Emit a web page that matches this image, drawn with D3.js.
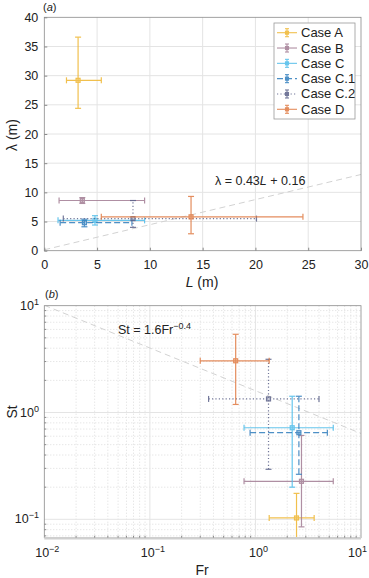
<!DOCTYPE html>
<html>
<head>
<meta charset="utf-8">
<script src="https://cdn.jsdelivr.net/npm/d3@7"></script>
<style>
  body { margin: 0; background: #fff; }
  svg { display: block; font-family: "Liberation Sans", Arial, sans-serif; }
</style>
</head>
<body>
<svg id="chart" width="369" height="578"></svg>
<script>
// ---- data ----
const cases = ["Case A", "Case B", "Case C", "Case C.1", "Case C.2", "Case D"];
const caseColors = ["#efb630", "#a27c93", "#4dbcea", "#2f7dbd", "#5b6189", "#e07a42"];
const caseDash = [null, null, null, "6,3", "1.2,2.2", null];

// panel (a): L, lambda with error ranges
const L = [3.2, 3.6, 4.8, 3.8, 8.4, 13.9];
const Llo = [2.1, 1.4, 1.3, 1.5, 1.8, 5.4];
const Lhi = [5.4, 9.5, 9.5, 8.3, 20.1, 24.5];
const lam = [29.2, 8.6, 5.2, 4.8, 5.5, 5.8];
const lamLo = [24.4, 8.1, 4.4, 4.1, 4.0, 2.9];
const lamHi = [36.6, 9.1, 6.0, 5.4, 8.6, 9.3];

// panel (b): Fr, St with error ranges
const Fr = [2.45, 2.73, 2.23, 2.58, 1.33, 0.65];
const FrLo = [1.35, 0.78, 0.78, 0.89, 0.36, 0.30];
const FrHi = [3.6, 5.46, 5.46, 4.8, 4.0, 1.35];
const St = [0.103, 0.227, 0.72, 0.647, 1.34, 3.05];
const StLo = [0.04, 0.085, 0.20, 0.264, 0.294, 1.19];
const StHi = [0.175, 0.61, 1.42, 1.42, 3.15, 5.4];

const xTicksA = [0, 5, 10, 15, 20, 25, 30];
const yTicksA = [0, 5, 10, 15, 20, 25, 30, 35, 40];
const xDecB = [-2, -1, 0, 1];
const yDecB = [-1, 0, 1];

const svg = d3.select("#chart");
const gridCol = "#e4e4e4";
const axisCol = "#8a8a8a";

function errorbars(g, x, y, xs, xl, xh, ys, yl, yh, i) {
  const col = caseColors[i], dash = caseDash[i];
  const e = g.append("g").attr("stroke", col).attr("stroke-width", 1.2)
    .attr("fill", "none").attr("opacity", 0.85);
  const cx = x(xs[i]), cy = y(ys[i]);
  e.append("line").attr("x1", x(xl[i])).attr("x2", x(xh[i])).attr("y1", cy).attr("y2", cy)
    .attr("stroke-dasharray", dash);
  e.append("line").attr("x1", cx).attr("x2", cx).attr("y1", y(yl[i])).attr("y2", y(yh[i]))
    .attr("stroke-dasharray", dash);
  [x(xl[i]), x(xh[i])].forEach(px => e.append("line").attr("x1", px).attr("x2", px)
    .attr("y1", cy - 3).attr("y2", cy + 3));
  [y(yl[i]), y(yh[i])].forEach(py => e.append("line").attr("y1", py).attr("y2", py)
    .attr("x1", cx - 3).attr("x2", cx + 3));
  e.append("rect").attr("x", cx - 2).attr("y", cy - 2).attr("width", 4).attr("height", 4)
    .attr("fill", col).attr("fill-opacity", 0.4);
}

// ================= panel (a) =================
const xa = d3.scaleLinear().domain([0, 30]).range([44.3, 361]);
const ya = d3.scaleLinear().domain([0, 40]).range([250.7, 17.3]);

const ga = svg.append("g");
ga.selectAll("line.vg").data(xTicksA.slice(1, -1)).join("line")
  .attr("x1", d => xa(d)).attr("x2", d => xa(d)).attr("y1", ya(0)).attr("y2", ya(40))
  .attr("stroke", gridCol);
ga.selectAll("line.hg").data(yTicksA.slice(1, -1)).join("line")
  .attr("y1", d => ya(d)).attr("y2", d => ya(d)).attr("x1", xa(0)).attr("x2", xa(30))
  .attr("stroke", gridCol);

svg.append("clipPath").attr("id", "clipA").append("rect")
  .attr("x", xa(0)).attr("y", ya(40)).attr("width", xa(30) - xa(0)).attr("height", ya(0) - ya(40));
const pa = ga.append("g").attr("clip-path", "url(#clipA)");

// fit line
pa.append("line").attr("x1", xa(0)).attr("y1", ya(0.16)).attr("x2", xa(30)).attr("y2", ya(0.43 * 30 + 0.16))
  .attr("stroke", "#d2d2d2").attr("stroke-width", 1).attr("stroke-dasharray", "6,4");

cases.forEach((c, i) => errorbars(pa, xa, ya, L, Llo, Lhi, lam, lamLo, lamHi, i));

// axes (box)
ga.append("rect").attr("x", xa(0)).attr("y", ya(40)).attr("width", xa(30) - xa(0))
  .attr("height", ya(0) - ya(40)).attr("fill", "none").attr("stroke", axisCol).attr("stroke-width", 0.8);
const axA = ga.append("g").attr("transform", `translate(0,${ya(0)})`)
  .call(d3.axisBottom(xa).tickValues(xTicksA).tickSize(-3).tickPadding(9));
const ayA = ga.append("g").attr("transform", `translate(${xa(0)},0)`)
  .call(d3.axisLeft(ya).tickValues(yTicksA).tickSize(-3).tickPadding(6));
[axA, ayA].forEach(a => {
  a.select(".domain").remove();
  a.selectAll(".tick line").attr("stroke", axisCol);
  a.selectAll("text").attr("font-size", 12.5).attr("fill", "#222").attr("font-family", "Liberation Sans, Arial, sans-serif");
});

ga.append("text").attr("x", 202).attr("y", 287).attr("text-anchor", "middle").attr("font-size", 14)
  .attr("fill", "#222").html('<tspan font-style="italic">L</tspan> (m)');
ga.append("text").attr("transform", "translate(17,135) rotate(-90)").attr("text-anchor", "middle")
  .attr("font-size", 14).attr("fill", "#222").text("λ (m)");
ga.append("text").attr("x", 43).attr("y", 11).attr("font-size", 11).attr("fill", "#222")
  .html('(<tspan font-style="italic">a</tspan>)');
ga.append("text").attr("x", 215).attr("y", 185).attr("font-size", 12.5).attr("fill", "#222")
  .html('λ = 0.43<tspan font-style="italic">L</tspan> + 0.16');

// legend
const lg = ga.append("g");
lg.append("rect").attr("x", 274).attr("y", 23).attr("width", 81).attr("height", 96)
  .attr("fill", "#fff").attr("stroke", "#9a9a9a").attr("stroke-width", 0.8);
const legY = d3.scalePoint().domain(cases).range([32.7, 109.3]);
cases.forEach((c, i) => {
  const y0 = legY(c);
  const g = lg.append("g").attr("stroke", caseColors[i]).attr("stroke-width", 1.1).attr("opacity", 0.85);
  g.append("line").attr("x1", 277).attr("x2", 297).attr("y1", y0).attr("y2", y0)
    .attr("stroke-dasharray", caseDash[i]);
  g.append("line").attr("x1", 287).attr("x2", 287).attr("y1", y0 - 4).attr("y2", y0 + 4);
  [y0 - 4, y0 + 4].forEach(p => g.append("line").attr("x1", 285).attr("x2", 289).attr("y1", p).attr("y2", p));
  g.append("rect").attr("x", 285.5).attr("y", y0 - 1.5).attr("width", 3).attr("height", 3)
    .attr("fill", caseColors[i]);
  lg.append("text").attr("x", 301).attr("y", y0 + 4.5).attr("font-size", 13).attr("fill", "#222").text(c);
});

// ================= panel (b) =================
const xb = d3.scaleLog().domain([0.01, 10]).range([44.3, 361]);
const yb = d3.scaleLog().domain([Math.pow(10, -1.172), 10]).range([537.7, 305.7]);

const gb = svg.append("g");
const minorX = [], minorY = [];
[-2, -1, 0].forEach(e => d3.range(2, 10).forEach(m => minorX.push(m * Math.pow(10, e))));
[-2, -1, 0].forEach(e => d3.range(2, 10).forEach(m => {
  const v = m * Math.pow(10, e);
  if (v > yb.domain()[0] && v < 10) minorY.push(v);
}));
gb.selectAll("line.mx").data(minorX).join("line")
  .attr("x1", d => xb(d)).attr("x2", d => xb(d)).attr("y1", yb.range()[0]).attr("y2", yb.range()[1])
  .attr("stroke", "#dcdcdc").attr("stroke-dasharray", "1,2");
gb.selectAll("line.my").data(minorY).join("line")
  .attr("y1", d => yb(d)).attr("y2", d => yb(d)).attr("x1", xb(0.01)).attr("x2", xb(10))
  .attr("stroke", "#dcdcdc").attr("stroke-dasharray", "1,2");
gb.selectAll("line.Mx").data([-1, 0]).join("line")
  .attr("x1", d => xb(Math.pow(10, d))).attr("x2", d => xb(Math.pow(10, d)))
  .attr("y1", yb.range()[0]).attr("y2", yb.range()[1]).attr("stroke", gridCol);
gb.selectAll("line.My").data([-1, 0]).join("line")
  .attr("y1", d => yb(Math.pow(10, d))).attr("y2", d => yb(Math.pow(10, d)))
  .attr("x1", xb(0.01)).attr("x2", xb(10)).attr("stroke", gridCol);

svg.append("clipPath").attr("id", "clipB").append("rect")
  .attr("x", xb(0.01)).attr("y", yb.range()[1]).attr("width", xb(10) - xb(0.01))
  .attr("height", yb.range()[0] - yb.range()[1]);
const pb = gb.append("g").attr("clip-path", "url(#clipB)");

pb.append("line").attr("x1", xb(0.01)).attr("y1", yb(1.6 * Math.pow(0.01, -0.4)))
  .attr("x2", xb(10)).attr("y2", yb(1.6 * Math.pow(10, -0.4)))
  .attr("stroke", "#d2d2d2").attr("stroke-width", 1).attr("stroke-dasharray", "6,4");

cases.forEach((c, i) => errorbars(pb, xb, yb, Fr, FrLo, FrHi, St, StLo, StHi, i));

// box and ticks
gb.append("rect").attr("x", xb(0.01)).attr("y", yb.range()[1]).attr("width", xb(10) - xb(0.01))
  .attr("height", yb.range()[0] - yb.range()[1]).attr("fill", "none").attr("stroke", axisCol).attr("stroke-width", 0.8);
gb.append("line").attr("x1", xb(0.01)).attr("x2", xb(10)).attr("y1", yb.range()[0] + 0.5).attr("y2", yb.range()[0] + 0.5)
  .attr("stroke", "#cfcfcf").attr("stroke-width", 2.5);
gb.selectAll("line.tx").data(minorX).join("line")
  .attr("x1", d => xb(d)).attr("x2", d => xb(d)).attr("y1", yb.range()[0]).attr("y2", yb.range()[0] - 2)
  .attr("stroke", axisCol);
gb.selectAll("line.ty").data(minorY).join("line")
  .attr("y1", d => yb(d)).attr("y2", d => yb(d)).attr("x1", xb(0.01)).attr("x2", xb(0.01) + 2)
  .attr("stroke", axisCol);

const supLabel = (sel, e) => sel.html(`10<tspan dy="-5" font-size="9">${e < 0 ? "−" + (-e) : e}</tspan>`);
xDecB.forEach((e, k) => {
  const last = k === xDecB.length - 1;
  const t = gb.append("text").attr("x", last ? 367 : xb(Math.pow(10, e)) + 3).attr("y", 557)
    .attr("text-anchor", last ? "end" : "middle")
    .attr("font-size", 12.5).attr("fill", "#222");
  supLabel(t, e);
});
yDecB.forEach(e => {
  const t = gb.append("text").attr("x", 39).attr("y", yb(Math.pow(10, e)) + 4).attr("text-anchor", "end")
    .attr("font-size", 12.5).attr("fill", "#222");
  supLabel(t, e);
});

gb.append("text").attr("x", 202).attr("y", 575).attr("text-anchor", "middle").attr("font-size", 14)
  .attr("fill", "#222").text("Fr");
gb.append("text").attr("transform", "translate(17,412) rotate(-90)").attr("text-anchor", "middle")
  .attr("font-size", 14).attr("fill", "#222").text("St");
gb.append("text").attr("x", 45).attr("y", 298).attr("font-size", 11).attr("fill", "#222")
  .html('(<tspan font-style="italic">b</tspan>)');
gb.append("text").attr("x", 118).attr("y", 334).attr("font-size", 12.5).attr("fill", "#222")
  .html('St = 1.6Fr<tspan dy="-5" font-size="9">−0.4</tspan>');
</script>
</body>
</html>
